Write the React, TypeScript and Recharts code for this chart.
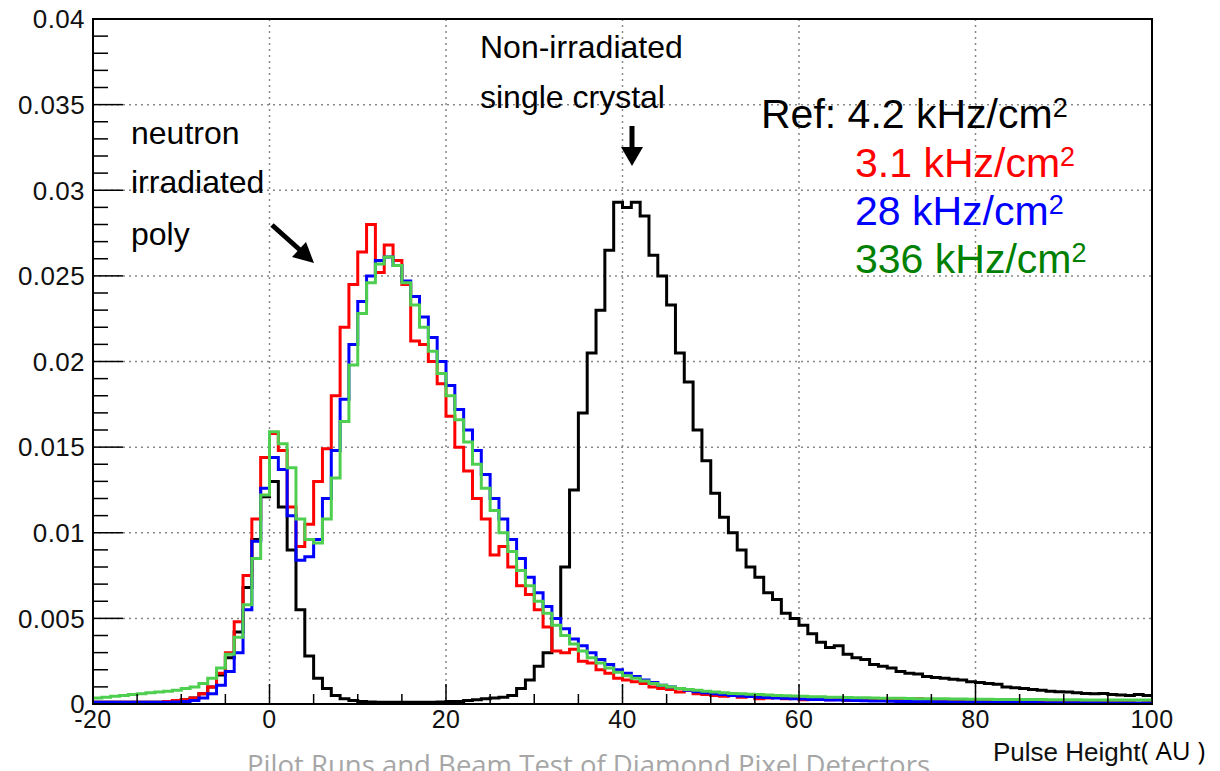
import React from "react";
import { CartesianGrid, Line, LineChart, ReferenceArea, XAxis, YAxis } from "recharts";

// bins of width 1 starting at -20, values in units of 1e-3
const BIN_STARTS = Array.from({ length: 120 }, (_, i) => -20 + i);
const X_END = 100;

const REF_4_2 = [
  0.1, 0.1, 0.1, 0.1, 0.1, 0.1, 0.1, 0.1, 0.15, 0.2,
  0.25, 0.35, 0.6, 1.0, 1.7, 2.7, 4.2, 6.8, 9.6, 12.1,
  13.0, 11.5, 9.0, 5.5, 2.8, 1.5, 0.9, 0.5, 0.3, 0.2,
  0.15, 0.12, 0.1, 0.1, 0.1, 0.1, 0.1, 0.1, 0.1, 0.12,
  0.15, 0.15, 0.2, 0.25, 0.3, 0.35, 0.4, 0.5, 0.9, 1.4,
  2.2, 3.0, 5.0, 8.0, 12.5, 17.0, 20.5, 23.0, 26.5, 29.3,
  29.0, 29.3, 28.5, 26.2, 25.0, 23.3, 20.5, 18.8, 16.0, 14.2,
  12.3, 10.9, 10.0, 9.0, 8.0, 7.4, 6.5, 6.1, 5.3, 5.0,
  4.6, 4.1, 3.6, 3.3, 3.4, 2.9, 2.7, 2.6, 2.3, 2.2,
  2.1, 1.9, 1.8, 1.75, 1.6, 1.55, 1.5, 1.45, 1.4, 1.3,
  1.25, 1.2, 1.15, 1.0, 0.95, 0.9, 0.85, 0.8, 0.75, 0.72,
  0.7, 0.65, 0.62, 0.6, 0.62, 0.55, 0.52, 0.5, 0.55, 0.5
];

const RATE_3_1 = [
  0.1, 0.1, 0.1, 0.1, 0.1, 0.1, 0.1, 0.1, 0.15, 0.2,
  0.25, 0.35, 0.6, 1.0, 1.8, 3.0, 4.8, 7.5, 10.8, 14.4,
  15.8, 14.8, 11.5, 9.2, 10.5, 13.0, 14.9, 18.0, 22.0, 24.5,
  26.4, 28.0, 25.2, 26.8, 25.9, 24.5, 21.2, 21.0, 20.0, 18.7,
  16.8, 15.0, 13.6, 12.0, 10.8, 8.7, 9.2, 8.0, 6.9, 6.4,
  5.5, 4.5, 3.1, 3.0, 3.2, 2.5, 2.4, 2.0, 1.8, 1.5,
  1.4, 1.3, 1.2, 1.0, 0.9, 0.85, 0.7, 0.8, 0.6, 0.55,
  0.5, 0.45, 0.5, 0.4, 0.5, 0.3, 0.35, 0.4, 0.3, 0.35,
  0.25, 0.3, 0.35, 0.25, 0.3, 0.2, 0.3, 0.25, 0.2, 0.3,
  0.2, 0.25, 0.2, 0.3, 0.15, 0.2, 0.25, 0.2, 0.15, 0.2,
  0.15, 0.2, 0.25, 0.15, 0.2, 0.15, 0.1, 0.2, 0.15, 0.1,
  0.15, 0.2, 0.1, 0.15, 0.1, 0.15, 0.2, 0.1, 0.05, 0.1
];

const RATE_28 = [
  0.1, 0.1, 0.1, 0.1, 0.1, 0.1, 0.1, 0.1, 0.1, 0.12,
  0.15, 0.2, 0.35, 0.6, 1.1, 1.9, 3.0, 5.5, 9.5, 12.6,
  14.4, 13.7, 11.0, 8.4, 8.6, 9.6, 12.0, 14.8, 17.8, 21.0,
  23.5, 25.0, 25.9, 26.1, 25.6, 24.7, 23.8, 22.6, 21.4, 20.0,
  18.6, 17.2, 16.0, 14.8, 13.4, 12.0, 10.8, 9.6, 8.5, 7.4,
  6.5, 5.7, 5.0, 4.4, 3.8, 3.4, 3.0, 2.6, 2.3, 2.0,
  1.8, 1.6, 1.4, 1.25, 1.1, 1.0, 0.9, 0.8, 0.72, 0.65,
  0.6, 0.55, 0.5, 0.47, 0.44, 0.4, 0.38, 0.35, 0.33, 0.31,
  0.29, 0.27, 0.26, 0.24, 0.23, 0.22, 0.2, 0.19, 0.18, 0.17,
  0.16, 0.15, 0.15, 0.14, 0.14, 0.13, 0.13, 0.12, 0.12, 0.11,
  0.11, 0.1, 0.1, 0.1, 0.09, 0.09, 0.09, 0.08, 0.08, 0.08,
  0.07, 0.07, 0.07, 0.07, 0.06, 0.06, 0.06, 0.06, 0.06, 0.06
];

const RATE_336 = [
  0.35, 0.4, 0.45, 0.5, 0.55, 0.6, 0.65, 0.7, 0.75, 0.8,
  0.9, 1.0, 1.2, 1.5, 2.1, 2.9, 3.9, 5.8, 8.5, 12.2,
  15.9, 15.2, 13.8, 10.8, 9.6, 9.4, 10.8, 13.2, 16.5, 19.8,
  22.8, 24.6, 25.7, 26.1, 25.6, 24.6, 23.3, 22.0, 20.6, 19.3,
  18.0, 16.6, 15.3, 14.0, 12.6, 11.3, 10.0, 8.9, 7.8, 6.9,
  6.0, 5.3, 4.6, 4.0, 3.5, 3.1, 2.7, 2.4, 2.1, 1.85,
  1.65, 1.5, 1.35, 1.2, 1.1, 1.0, 0.9, 0.85, 0.8, 0.75,
  0.7, 0.66, 0.62, 0.6, 0.57, 0.55, 0.52, 0.5, 0.48, 0.46,
  0.45, 0.43, 0.42, 0.4, 0.39, 0.38, 0.37, 0.36, 0.35, 0.34,
  0.33, 0.33, 0.32, 0.31, 0.31, 0.3, 0.3, 0.29, 0.29, 0.28,
  0.28, 0.28, 0.27, 0.27, 0.27, 0.26, 0.26, 0.26, 0.25, 0.25,
  0.25, 0.25, 0.24, 0.24, 0.24, 0.24, 0.23, 0.23, 0.23, 0.23
];

const X_TICKS = [-20, 0, 20, 40, 60, 80, 100];
const X_ALL_TICKS = Array.from({ length: 25 }, (_, i) => -20 + i * 5);
const Y_TICKS = [0, 0.005, 0.01, 0.015, 0.02, 0.025, 0.03, 0.035, 0.04];
const Y_ALL_TICKS = Array.from({ length: 41 }, (_, i) => i / 1000);

const LEGEND = [
  { label: "3.1 kHz/cm", color: "#ff0000" },
  { label: "28 kHz/cm", color: "#0000ff" },
  { label: "336 kHz/cm", color: "#008000" }
];

const last = BIN_STARTS.length - 1;
const rows = [
  ...BIN_STARTS.map((x, i) => ({
    x,
    ref: REF_4_2[i] / 1000,
    r31: RATE_3_1[i] / 1000,
    r28: RATE_28[i] / 1000,
    r336: RATE_336[i] / 1000
  })),
  {
    x: X_END,
    ref: REF_4_2[last] / 1000,
    r31: RATE_3_1[last] / 1000,
    r28: RATE_28[last] / 1000,
    r336: RATE_336[last] / 1000
  }
];

const SANS = "'Liberation Sans', Arial, sans-serif";
const Y_MARGIN = 8;
const X_MARGIN = 4;

function YTick(props: any) {
  const { x, y, payload } = props;
  const v = payload.value;
  const major = Y_TICKS.some((t) => Math.abs(t - v) < 1e-9);
  const edge = x + Y_MARGIN;
  return (
    <g>
      <line x1={edge} y1={y} x2={edge + (major ? 30 : 15)} y2={y} stroke="#000" strokeWidth={1.5} />
      {major && (
        <text x={x} y={y} dy="0.36em" textAnchor="end" fontSize={26} letterSpacing={0.4} fill="#111" fontFamily={SANS}>
          {String(v)}
        </text>
      )}
    </g>
  );
}

function XTick(props: any) {
  const { x, y, payload } = props;
  const v = payload.value;
  const major = X_TICKS.includes(v);
  const edge = y - X_MARGIN;
  return (
    <g>
      <line x1={x} y1={edge} x2={x} y2={edge - (major ? 20 : 10)} stroke="#000" strokeWidth={1.5} />
      {major && (
        <text x={x} y={y} dy="0.78em" textAnchor="middle" fontSize={25} letterSpacing={0.4} fill="#111" fontFamily={SANS}>
          {String(v)}
        </text>
      )}
    </g>
  );
}

export default function App() {
  return (
    <div
      style={{
        position: "fixed",
        left: 0,
        top: 0,
        width: 1220,
        height: 771,
        overflow: "hidden",
        background: "#fff"
      }}
    >
      <LineChart width={1220} height={771} data={rows} margin={{ top: 19, right: 68, bottom: 0, left: 3 }}>
        <CartesianGrid
          stroke="#888"
          strokeDasharray="2 4"
          strokeWidth={1.5}
          horizontalValues={Y_TICKS}
          verticalValues={X_TICKS}
        />
        <XAxis
          dataKey="x"
          type="number"
          domain={[-20, 100]}
          ticks={X_ALL_TICKS}
          interval={0}
          allowDataOverflow
          height={67}
          tickLine={false}
          tickSize={0}
          tickMargin={X_MARGIN}
          axisLine={{ stroke: "#000", strokeWidth: 2 }}
          tick={<XTick />}
        />
        <YAxis
          type="number"
          domain={[0, 0.04]}
          ticks={Y_ALL_TICKS}
          interval={0}
          allowDataOverflow
          width={90}
          tickLine={false}
          tickSize={0}
          tickMargin={Y_MARGIN}
          axisLine={{ stroke: "#000", strokeWidth: 2 }}
          tick={<YTick />}
        />
        <ReferenceArea x1={-20} x2={100} y1={0} y2={0.04} fill="none" stroke="#000" strokeWidth={2} ifOverflow="visible" />
        <Line dataKey="ref" type="stepAfter" stroke="#000" strokeWidth={3} dot={false} isAnimationActive={false} />
        <Line dataKey="r31" type="stepAfter" stroke="#ff0000" strokeWidth={3} dot={false} isAnimationActive={false} />
        <Line dataKey="r28" type="stepAfter" stroke="#0000ff" strokeWidth={3} dot={false} isAnimationActive={false} />
        <Line dataKey="r336" type="stepAfter" stroke="#4fcf4f" strokeWidth={3} dot={false} isAnimationActive={false} />
      </LineChart>

      <svg
        width={1220}
        height={771}
        style={{ position: "absolute", left: 0, top: 0, pointerEvents: "none" }}
        fontFamily={SANS}
      >
        <g fontSize={32} fill="#000">
          <text x={131} y={144}>neutron</text>
          <text x={131} y={193}>irradiated</text>
          <text x={131} y={245}>poly</text>
          <text x={480} y={58}>Non-irradiated</text>
          <text x={480} y={108}>single crystal</text>
        </g>

        <line x1={632} y1={126} x2={632} y2={150} stroke="#000" strokeWidth={5} />
        <polygon points="621,147 643,147 632,166" fill="#000" />
        <line x1={272} y1={225} x2={300} y2={250} stroke="#000" strokeWidth={5} />
        <polygon points="292,257 306,242 314,263" fill="#000" />

        <text x={761} y={128} fontSize={41} fill="#000">
          Ref: 4.2 kHz/cm<tspan fontSize={27} dy={-11}>2</tspan>
        </text>
        {LEGEND.map((item, i) => (
          <text key={item.label} x={855} y={177 + i * 48} fontSize={41} fill={item.color}>
            {item.label}
            <tspan fontSize={27} dy={-11}>2</tspan>
          </text>
        ))}

        <text x={993} y={761} fontSize={26} fill="#111">Pulse Height</text>
        <text x={1141} y={760} fontSize={26} fill="#000" fontFamily="'Open Sans', sans-serif">( AU )</text>
        <text
          x={247}
          y={775}
          fontSize={27}
          fill="#a6a6a6"
          fontFamily="'Open Sans', sans-serif"
          textLength={683}
          lengthAdjust="spacingAndGlyphs"
        >
          Pilot Runs and Beam Test of Diamond Pixel Detectors
        </text>
      </svg>
    </div>
  );
}
